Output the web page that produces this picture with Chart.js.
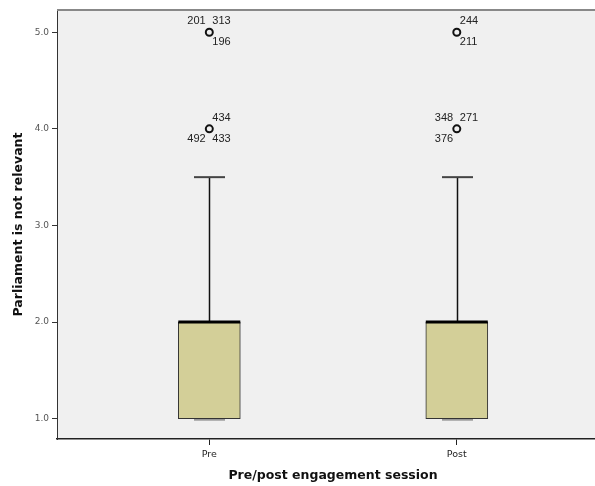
<!DOCTYPE html>
<html>
<head>
<meta charset="utf-8">
<script src="https://cdn.jsdelivr.net/npm/chart.js@4"></script>
<style>
  html, body { margin: 0; padding: 0; background: #fff; overflow: hidden; }
  #wrap { width: 595px; height: 486px; overflow: hidden; position: relative; }
  canvas { display: block; }
</style>
</head>
<body>
<div id="wrap"><canvas id="chart" width="615" height="486"></canvas></div>
<script>
// Five-number summaries per session
const categories = ['Pre', 'Post'];
const q1 = [1.0, 1.0];
const median = [2.0, 2.0];
const q3 = [2.0, 2.0];
const whiskerLow = [1.0, 1.0];
const whiskerHigh = [3.5, 3.5];

// Outlying values and the case numbers sitting at each of them
const outlierValues = [[5.0, 4.0], [5.0, 4.0]];
const outlierCases = [
  [['201', '313', '196'], ['434', '492', '433']],
  [['244', '211'], ['348', '271', '376']]
];

const yTickValues = [1, 2, 3, 4, 5];
const yTickLabels = ['1.0', '2.0', '3.0', '4.0', '5.0'];

// Where each case label sits around its circle
const caseAnchor = {
  '201': 'nw', '313': 'ne', '196': 'se',
  '434': 'ne', '492': 'sw', '433': 'se',
  '244': 'ne', '211': 'se',
  '348': 'nw', '271': 'ne', '376': 'sw'
};

const BOX_WIDTH = 62;
const CAP_HALF = 15.5;

const boxData = categories.map((c, i) => ({ x: i + 1, y: [q1[i], q3[i]] }));
const outlierPoints = [];
outlierValues.forEach((vals, i) => vals.forEach(v => outlierPoints.push({ x: i + 1, y: v })));

const boxParts = {
  id: 'boxParts',
  beforeDraw(chart) {
    const { ctx, chartArea: a } = chart;
    ctx.save();
    ctx.fillStyle = '#F0F0F0';
    ctx.fillRect(a.left, a.top, a.right - a.left, a.bottom - a.top);
    ctx.restore();
  },
  beforeDatasetsDraw(chart) {
    const { ctx, scales: { x, y } } = chart;
    ctx.save();
    categories.forEach((c, i) => {
      const px = Math.round(x.getPixelForValue(i + 1)) + 0.5;
      // upper whisker
      ctx.strokeStyle = '#111';
      ctx.lineWidth = 1.5;
      ctx.beginPath();
      ctx.moveTo(px, y.getPixelForValue(q3[i]));
      ctx.lineTo(px, y.getPixelForValue(whiskerHigh[i]));
      ctx.stroke();
      // upper cap
      ctx.strokeStyle = '#444';
      ctx.lineWidth = 2;
      const yh = y.getPixelForValue(whiskerHigh[i]);
      ctx.beginPath();
      ctx.moveTo(px - CAP_HALF, yh);
      ctx.lineTo(px + CAP_HALF, yh);
      ctx.stroke();
      // lower whisker and cap
      const yl = y.getPixelForValue(whiskerLow[i]);
      ctx.strokeStyle = '#111';
      ctx.lineWidth = 1.5;
      ctx.beginPath();
      ctx.moveTo(px, y.getPixelForValue(q1[i]));
      ctx.lineTo(px, yl);
      ctx.stroke();
      ctx.strokeStyle = '#999';
      ctx.lineWidth = 2;
      ctx.beginPath();
      ctx.moveTo(px - CAP_HALF, yl + 1);
      ctx.lineTo(px + CAP_HALF, yl + 1);
      ctx.stroke();
    });
    ctx.restore();
  },
  afterDatasetsDraw(chart) {
    const { ctx, chartArea: a, scales: { x, y } } = chart;
    ctx.save();
    // medians
    categories.forEach((c, i) => {
      const px = x.getPixelForValue(i + 1);
      const ym = y.getPixelForValue(median[i]);
      ctx.strokeStyle = '#000';
      ctx.lineWidth = 3;
      ctx.beginPath();
      ctx.moveTo(px - BOX_WIDTH / 2, ym);
      ctx.lineTo(px + BOX_WIDTH / 2, ym);
      ctx.stroke();
    });
    // frame top edge
    ctx.strokeStyle = '#888';
    ctx.lineWidth = 2;
    ctx.beginPath();
    ctx.moveTo(a.left, a.top);
    ctx.lineTo(a.right, a.top);
    ctx.stroke();
    // case labels
    ctx.fillStyle = '#222';
    ctx.font = '11px "Liberation Sans", Arial, sans-serif';
    ctx.textBaseline = 'middle';
    ctx.textAlign = 'left';
    outlierValues.forEach((vals, i) => {
      const px = x.getPixelForValue(i + 1);
      vals.forEach((v, k) => {
        const py = y.getPixelForValue(v);
        outlierCases[i][k].forEach(label => {
          const anc = caseAnchor[label];
          const dx = anc[1] === 'e' ? 3 : -22;
          const dy = anc[0] === 'n' ? -11 : 10;
          ctx.fillText(label, px + dx, py + dy);
        });
      });
    });
    ctx.restore();
  }
};

new Chart(document.getElementById('chart').getContext('2d'), {
  type: 'bar',
  data: {
    datasets: [
      {
        type: 'bar',
        data: boxData,
        backgroundColor: '#D3CF98',
        borderColor: '#333',
        borderWidth: 1,
        borderSkipped: false,
        barThickness: BOX_WIDTH,
        order: 2
      },
      {
        type: 'scatter',
        data: outlierPoints,
        pointRadius: 3.5,
        pointBorderWidth: 2,
        borderColor: '#111',
        backgroundColor: 'rgba(0,0,0,0)',
        order: 1
      }
    ]
  },
  options: {
    responsive: false,
    animation: false,
    layout: { padding: { top: 10, left: 0, right: 0, bottom: 0 } },
    plugins: { legend: { display: false }, tooltip: { enabled: false } },
    scales: {
      x: {
        type: 'linear',
        min: 0.3846,
        max: 2.615,
        offset: false,
        afterBuildTicks(s) { s.ticks = categories.map((c, i) => ({ value: i + 1 })); },
        afterFit(s) { s.height = 47; },
        ticks: {
          callback: (v, idx) => categories[idx],
          color: '#222',
          font: { family: 'DejaVu Sans', size: 9.5 },
          padding: 4,
          maxRotation: 0,
          autoSkip: false
        },
        grid: { display: true, offset: false, drawOnChartArea: false, drawTicks: true, tickLength: 6, color: '#222', lineWidth: 1 },
        border: { display: true, color: '#222', width: 1.5 },
        title: {
          display: true,
          text: 'Pre/post engagement session',
          color: '#111',
          font: { family: 'DejaVu Sans', size: 12.5, weight: 'bold' },
          padding: { top: 0, bottom: 2.5 }
        }
      },
      y: {
        type: 'linear',
        min: 0.79,
        max: 5.23,
        afterBuildTicks(s) { s.ticks = yTickValues.map(v => ({ value: v })); },
        afterFit(s) { s.width = 57; },
        ticks: {
          callback: (v, idx) => yTickLabels[idx],
          color: '#555',
          font: { family: 'DejaVu Sans', size: 9 },
          padding: 3
        },
        grid: { display: true, drawOnChartArea: false, drawTicks: true, tickLength: 5, color: '#333', lineWidth: 1 },
        border: { display: true, color: '#333', width: 1 },
        title: {
          display: true,
          text: 'Parliament is not relevant',
          color: '#111',
          font: { family: 'DejaVu Sans', size: 12.5, weight: 'bold' },
          padding: { top: 11.5, bottom: 0 }
        }
      }
    }
  },
  plugins: [boxParts]
});
</script>
</body>
</html>
